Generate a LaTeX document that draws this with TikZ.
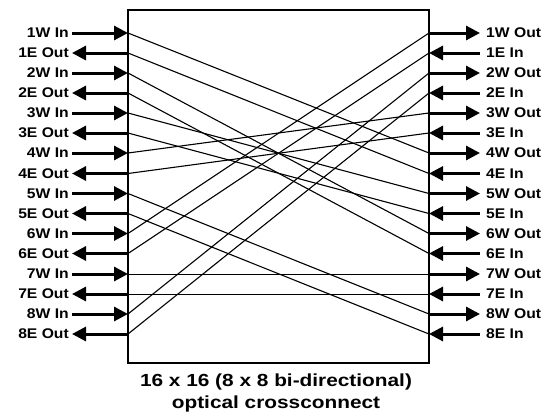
\documentclass[tikz,border=0pt]{standalone}
\usepackage{fontspec}
\setmainfont{Liberation Sans}
\newfontfamily\portfont[FakeStretch=1.12]{Liberation Sans}
\newfontfamily\capfont[FakeStretch=1.19]{Liberation Sans}
\usetikzlibrary{arrows.meta,positioning}

\begin{document}
\begin{tikzpicture}[x=1pt, y=-1pt,
  portlabel/.style={font=\portfont\fontsize{14}{16}\selectfont\bfseries, inner sep=0pt},
  inwire/.style={-{Triangle[length=14pt,width=14pt]}, line width=3pt},
  outwire/.style={{Triangle[length=14pt,width=14pt]}-, line width=3pt},
  xpath/.style={line width=1.1pt},
  flatpath/.style={line width=0.8pt}
]
\useasboundingbox (0,0) rectangle (554,415);

% the crossconnect box
\node[draw, line width=2.5pt, minimum width=301pt, minimum height=353pt, inner sep=0pt] (xc) at (278.5,186.5) {};

% ports on the west side of the box
\coordinate (L1)  at (128,33);
\coordinate (L2)  at (128,53);
\coordinate (L3)  at (128,73);
\coordinate (L4)  at (128,93);
\coordinate (L5)  at (128,113);
\coordinate (L6)  at (128,133);
\coordinate (L7)  at (128,153);
\coordinate (L8)  at (128,173.5);
\coordinate (L9)  at (128,193.5);
\coordinate (L10) at (128,213.5);
\coordinate (L11) at (128,233.5);
\coordinate (L12) at (128,253.5);
\coordinate (L13) at (128,274);
\coordinate (L14) at (128,294);
\coordinate (L15) at (128,314);
\coordinate (L16) at (128,334);

% ports on the east side of the box
\coordinate (R1)  at (429,33);
\coordinate (R2)  at (429,53);
\coordinate (R3)  at (429,73);
\coordinate (R4)  at (429,93);
\coordinate (R5)  at (429,113);
\coordinate (R6)  at (429,133);
\coordinate (R7)  at (429,153);
\coordinate (R8)  at (429,173.5);
\coordinate (R9)  at (429,193.5);
\coordinate (R10) at (429,213.5);
\coordinate (R11) at (429,233.5);
\coordinate (R12) at (429,253.5);
\coordinate (R13) at (429,274);
\coordinate (R14) at (429,294);
\coordinate (R15) at (429,314);
\coordinate (R16) at (429,334);

% west labels
\node[portlabel, anchor=east] (wl1)  at (69,33)    {1W In};
\node[portlabel, anchor=east] (wl2)  at (69,53)    {1E Out};
\node[portlabel, anchor=east] (wl3)  at (69,73)    {2W In};
\node[portlabel, anchor=east] (wl4)  at (69,93)    {2E Out};
\node[portlabel, anchor=east] (wl5)  at (69,113)   {3W In};
\node[portlabel, anchor=east] (wl6)  at (69,133)   {3E Out};
\node[portlabel, anchor=east] (wl7)  at (69,153)   {4W In};
\node[portlabel, anchor=east] (wl8)  at (69,173.5) {4E Out};
\node[portlabel, anchor=east] (wl9)  at (69,193.5) {5W In};
\node[portlabel, anchor=east] (wl10) at (69,213.5) {5E Out};
\node[portlabel, anchor=east] (wl11) at (69,233.5) {6W In};
\node[portlabel, anchor=east] (wl12) at (69,253.5) {6E Out};
\node[portlabel, anchor=east] (wl13) at (69,274)   {7W In};
\node[portlabel, anchor=east] (wl14) at (69,294)   {7E Out};
\node[portlabel, anchor=east] (wl15) at (69,314)   {8W In};
\node[portlabel, anchor=east] (wl16) at (69,334)   {8E Out};

% east labels
\node[portlabel, anchor=west] (el1)  at (486,33)    {1W Out};
\node[portlabel, anchor=west] (el2)  at (486,53)    {1E In};
\node[portlabel, anchor=west] (el3)  at (486,73)    {2W Out};
\node[portlabel, anchor=west] (el4)  at (486,93)    {2E In};
\node[portlabel, anchor=west] (el5)  at (486,113)   {3W Out};
\node[portlabel, anchor=west] (el6)  at (486,133)   {3E In};
\node[portlabel, anchor=west] (el7)  at (486,153)   {4W Out};
\node[portlabel, anchor=west] (el8)  at (486,173.5) {4E In};
\node[portlabel, anchor=west] (el9)  at (486,193.5) {5W Out};
\node[portlabel, anchor=west] (el10) at (486,213.5) {5E In};
\node[portlabel, anchor=west] (el11) at (486,233.5) {6W Out};
\node[portlabel, anchor=west] (el12) at (486,253.5) {6E In};
\node[portlabel, anchor=west] (el13) at (486,274)   {7W Out};
\node[portlabel, anchor=west] (el14) at (486,294)   {7E In};
\node[portlabel, anchor=west] (el15) at (486,314)   {8W Out};
\node[portlabel, anchor=west] (el16) at (486,334)   {8E In};

% west arrows
\draw[inwire]  ([xshift=3pt]wl1.east)  -- (L1);
\draw[outwire] ([xshift=3pt]wl2.east)  -- (L2);
\draw[inwire]  ([xshift=3pt]wl3.east)  -- (L3);
\draw[outwire] ([xshift=3pt]wl4.east)  -- (L4);
\draw[inwire]  ([xshift=3pt]wl5.east)  -- (L5);
\draw[outwire] ([xshift=3pt]wl6.east)  -- (L6);
\draw[inwire]  ([xshift=3pt]wl7.east)  -- (L7);
\draw[outwire] ([xshift=3pt]wl8.east)  -- (L8);
\draw[inwire]  ([xshift=3pt]wl9.east)  -- (L9);
\draw[outwire] ([xshift=3pt]wl10.east) -- (L10);
\draw[inwire]  ([xshift=3pt]wl11.east) -- (L11);
\draw[outwire] ([xshift=3pt]wl12.east) -- (L12);
\draw[inwire]  ([xshift=3pt]wl13.east) -- (L13);
\draw[outwire] ([xshift=3pt]wl14.east) -- (L14);
\draw[inwire]  ([xshift=3pt]wl15.east) -- (L15);
\draw[outwire] ([xshift=3pt]wl16.east) -- (L16);

% east arrows
\draw[inwire]  (R1)  -- ([xshift=-6pt]el1.west);
\draw[outwire] (R2)  -- ([xshift=-6pt]el2.west);
\draw[inwire]  (R3)  -- ([xshift=-6pt]el3.west);
\draw[outwire] (R4)  -- ([xshift=-6pt]el4.west);
\draw[inwire]  (R5)  -- ([xshift=-6pt]el5.west);
\draw[outwire] (R6)  -- ([xshift=-6pt]el6.west);
\draw[inwire]  (R7)  -- ([xshift=-6pt]el7.west);
\draw[outwire] (R8)  -- ([xshift=-6pt]el8.west);
\draw[inwire]  (R9)  -- ([xshift=-6pt]el9.west);
\draw[outwire] (R10) -- ([xshift=-6pt]el10.west);
\draw[inwire]  (R11) -- ([xshift=-6pt]el11.west);
\draw[outwire] (R12) -- ([xshift=-6pt]el12.west);
\draw[inwire]  (R13) -- ([xshift=-6pt]el13.west);
\draw[outwire] (R14) -- ([xshift=-6pt]el14.west);
\draw[inwire]  (R15) -- ([xshift=-6pt]el15.west);
\draw[outwire] (R16) -- ([xshift=-6pt]el16.west);

% paths through the crossconnect
\draw[xpath] (L1)  -- (R7);
\draw[xpath] (L2)  -- (R8);
\draw[xpath] (L3)  -- (R11);
\draw[xpath] (L4)  -- (R12);
\draw[xpath] (L5)  -- (R9);
\draw[xpath] (L6)  -- (R10);
\draw[xpath] (L7)  -- (R5);
\draw[xpath] (L8)  -- (R6);
\draw[xpath] (L9)  -- (R15);
\draw[xpath] (L10) -- (R16);
\draw[xpath] (L11) -- (R1);
\draw[xpath] (L12) -- (R2);
\draw[flatpath] (L13) -- (R13);
\draw[flatpath] (L14) -- (R14);
\draw[xpath] (L15) -- (R3);
\draw[xpath] (L16) -- (R4);

% caption
\node[font=\capfont\fontsize{17.5}{22}\selectfont\bfseries, align=center] (cap) at (276,393)
  {16 x 16 (8 x 8 bi-directional)\\optical crossconnect};
\end{tikzpicture}
\end{document}
